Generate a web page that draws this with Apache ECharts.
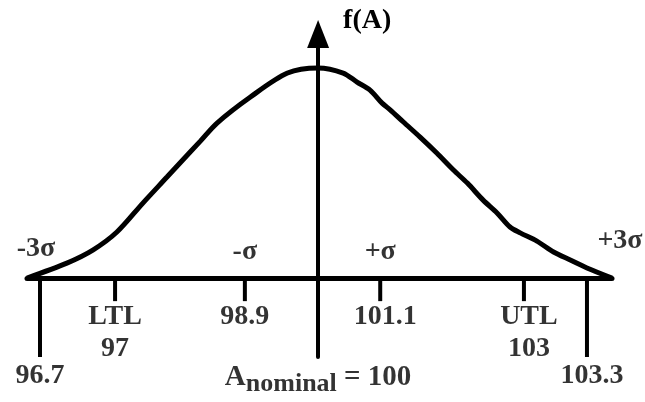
<!DOCTYPE html>
<html>
<head>
<meta charset="utf-8">
<script src="https://cdn.jsdelivr.net/npm/echarts@6/dist/echarts.min.js"></script>
<style>
html,body{margin:0;padding:0;background:#fff;}
#chartmain{width:645px;height:402px;}
</style>
</head>
<body>
<div id="chartmain"></div>
<script>
//曲线上读出的点（横轴：示意位置，约以σ为单位；纵轴：相对高度，峰值=1）
var curveX = [-3.14, -2.71, -2.43, -2.17, -1.89, -1.63, -1.49, -1.27, -1.09, -0.73, -0.33, 0,
              0.27, 0.42, 0.56, 0.69, 0.78, 0.92, 1.10, 1.28, 1.46, 1.61, 1.78, 1.93, 2.07, 2.18,
              2.36, 2.54, 2.72, 2.90, 3.17];
var curveY = [0, 0.071, 0.133, 0.219, 0.357, 0.481, 0.548, 0.652, 0.738, 0.862, 0.976, 1.0,
              0.976, 0.933, 0.895, 0.833, 0.80, 0.743, 0.671, 0.595, 0.514, 0.452, 0.371, 0.31, 0.243, 0.215,
              0.176, 0.124, 0.086, 0.048, 0];
//横轴刻度（示意位置）与标注
var tickPos = [-3.00, -2.19, -0.79, 0.67, 2.22, 2.90];
var tickValues = ['96.7', '97', '98.9', '101.1', '103', '103.3'];
var tickNames = ['', 'LTL', '', '', 'UTL', ''];
//σ 标注
var sigmaPos = [-3.00, -0.79, 0.67, 2.90];
var sigmaNames = ['-3σ', '-σ', '+σ', '+3σ'];
var nominalValue = '100';

var xMin = -3.14, xMax = 3.17;
var yMin = -0.376, yMax = 1.162;
var shortDepth = -0.11;
var font = 'Liberation Serif';

var curveData = [];
for (var i = 0; i < curveX.length; i++) {
    curveData.push([curveX[i], curveY[i]]);
}
var tickData = [];
var tickLabelData = [];
for (var i = 0; i < tickPos.length; i++) {
    var isEnd = (i == 0 || i == tickPos.length - 1);
    tickData.push([tickPos[i], isEnd ? yMin : shortDepth]);
    tickLabelData.push({
        value: [tickPos[i], 0],
        name: tickNames[i] ? tickNames[i] + '\n' + tickValues[i] : tickValues[i],
        //右侧的数字略偏右
        label: { distance: isEnd ? 82 : 23, offset: [tickPos[i] > 0 ? 5 : 0, 0] }
    });
}
var sigmaData = [];
for (var i = 0; i < sigmaPos.length; i++) {
    var item = { value: [sigmaPos[i], 0], name: sigmaNames[i] };
    if (sigmaNames[i] == '+3σ') item.label = { offset: [33, -11] };
    if (sigmaNames[i] == '-3σ') item.label = { offset: [-4, -3] };
    sigmaData.push(item);
}

var textStyle = { fontFamily: font, fontWeight: 'bold', fontSize: 28, color: '#000', lineHeight: 32 };

var myChart = echarts.init(document.getElementById('chartmain'));
myChart.setOption({
    animation: false,
    backgroundColor: '#fff',
    grid: { left: 27, right: 33, top: 34, bottom: 45, containLabel: false, outerBoundsMode: 'none' },
    xAxis: {
        type: 'value', min: xMin, max: xMax,
        axisLine: { onZero: true, lineStyle: { color: '#000', width: 5 } },
        axisTick: { show: false }, axisLabel: { show: false }, splitLine: { show: false }
    },
    yAxis: {
        type: 'value', min: yMin, max: yMax,
        name: 'f(A)', nameLocation: 'end', nameGap: 13,
        nameTextStyle: { fontFamily: font, fontWeight: 'bold', fontSize: 28, color: '#000',
                         align: 'left', verticalAlign: 'middle', padding: [0, 0, 0, 25] },
        axisLine: { onZero: true, symbol: ['none', 'triangle'], symbolSize: [22, 28],
                    lineStyle: { color: '#000', width: 4 } },
        axisTick: { show: false }, axisLabel: { show: false }, splitLine: { show: false }
    },
    series: [{
        type: 'line',
        data: curveData,
        smooth: 0.3,
        symbol: 'none',
        lineStyle: { color: '#000', width: 5 },
        z: 3
    }, {
        type: 'custom',
        data: tickData,
        renderItem: function (params, api) {
            var p1 = api.coord([api.value(0), 0]);
            var p2 = api.coord([api.value(0), api.value(1)]);
            return {
                type: 'line',
                shape: { x1: p1[0], y1: p1[1], x2: p2[0], y2: p2[1] },
                style: { stroke: '#000', lineWidth: 4 }
            };
        },
        clip: false
    }, {
        type: 'scatter',
        data: tickLabelData,
        symbolSize: 0,
        clip: false,
        label: Object.assign({ show: true, position: 'bottom', formatter: '{b}', align: 'center' }, textStyle)
    }, {
        type: 'scatter',
        data: sigmaData,
        symbolSize: 0,
        clip: false,
        label: Object.assign({ show: true, position: 'top', distance: 10, formatter: '{b}' }, textStyle)
    }, {
        type: 'scatter',
        data: [[0, yMin]],
        symbolSize: 0,
        clip: false,
        label: {
            show: true, position: 'bottom', distance: 6,
            formatter: '{a|A}{s|nominal}{a| = ' + nominalValue + '}',
            rich: {
                a: { fontFamily: font, fontWeight: 'bold', fontSize: 29, color: '#000', lineHeight: 30, verticalAlign: 'top' },
                s: { fontFamily: font, fontWeight: 'bold', fontSize: 26, color: '#000', lineHeight: 30, verticalAlign: 'top', padding: [8, 0, 0, 0] }
            }
        }
    }]
});
</script>
</body>
</html>
